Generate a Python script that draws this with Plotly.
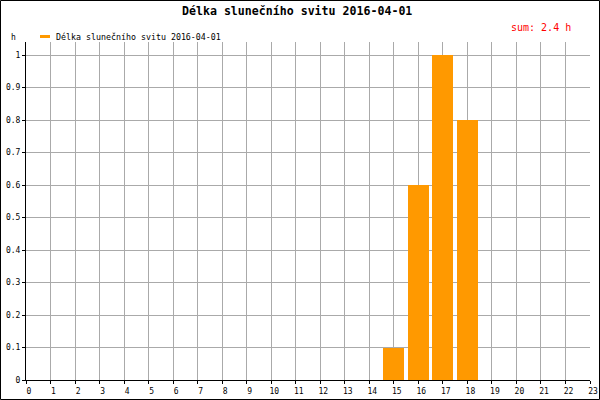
import plotly.graph_objects as go

hours = [15, 16, 17, 18]
sunshine = [0.1, 0.6, 1.0, 0.8]
x_ticks = list(range(0, 24))
y_ticks = [0, 0.1, 0.2, 0.3, 0.4, 0.5, 0.6, 0.7, 0.8, 0.9, 1]
y_labels = ["0", "0.1", "0.2", "0.3", "0.4", "0.5", "0.6", "0.7", "0.8", "0.9", "1"]
title = "Délka slunečního svitu 2016-04-01"
series_name = "Délka slunečního svitu 2016-04-01"
sum_text = "sum: 2.4 h"

W, H = 600, 400
L, R, T, B = 26, 10, 42, 20
pw, ph = W - L - R, H - T - B

def px(xp):
    return (xp - L) / pw

def py(yp):
    return (H - B - yp) / ph

font = "DejaVu Sans Mono"

fig = go.Figure()
fig.add_trace(go.Bar(x=hours, y=sunshine, width=0.86, marker=dict(color="#ff9900", line=dict(width=0)),
                     name=series_name, showlegend=False, hoverinfo="skip"))

fig.update_layout(
    width=W, height=H,
    margin=dict(l=L, r=R, t=T, b=B, pad=0, autoexpand=False),
    paper_bgcolor="white", plot_bgcolor="white",
    font=dict(family=font, size=8, color="black"),
    bargap=0,
    xaxis=dict(range=[0, 23], tickvals=x_ticks, ticktext=[str(v) for v in x_ticks],
               showgrid=True, gridcolor="#aaaaaa", gridwidth=1,
               showline=True, linecolor="black", linewidth=1,
               ticks="outside", ticklen=3, tickcolor="black", automargin=False,
               ticklabelshift=3, ticklabelstandoff=0,
               tickfont=dict(family=font, size=8), zeroline=False, fixedrange=True),
    yaxis=dict(range=[0, 1.04], tickvals=y_ticks, ticktext=y_labels,
               showgrid=True, gridcolor="#aaaaaa", gridwidth=1,
               showline=True, linecolor="black", linewidth=1,
               ticks="outside", ticklen=3, tickcolor="black", automargin=False,
               tickfont=dict(family=font, size=8), zeroline=False, fixedrange=True),
    showlegend=False,
)

annotations = [
    dict(text="<b>" + title + "</b>", x=px(297), y=py(11), xref="paper", yref="paper",
         showarrow=False, font=dict(family=font, size=11.6, color="black"), xanchor="center", yanchor="middle"),
    dict(text=sum_text, x=px(573), y=py(27), xref="paper", yref="paper",
         showarrow=False, font=dict(family=font, size=10, color="red"), xanchor="right", yanchor="middle"),
    dict(text=series_name, x=px(54), y=py(37), xref="paper", yref="paper",
         showarrow=False, font=dict(family=font, size=8.3, color="black"), xanchor="left", yanchor="middle"),
    dict(text="h", x=px(13), y=py(38), xref="paper", yref="paper",
         showarrow=False, font=dict(family=font, size=8, color="black"), xanchor="center", yanchor="middle"),
]
fig.update_layout(annotations=annotations)

shapes = [
    dict(type="line", xref="paper", yref="paper", x0=px(40), x1=px(50), y0=py(36.5), y1=py(36.5),
         line=dict(color="#ff9900", width=3)),
    dict(type="rect", xref="paper", yref="paper", x0=px(0.5), x1=px(599.5), y0=py(0.5), y1=py(399.5),
         line=dict(color="black", width=1), fillcolor="rgba(0,0,0,0)"),
]
fig.update_layout(shapes=shapes)

fig.write_html("out.html", config={"displayModeBar": False, "staticPlot": True},
               post_script="document.body.style.margin='0';document.body.style.padding='0';document.body.style.overflow='hidden';")
